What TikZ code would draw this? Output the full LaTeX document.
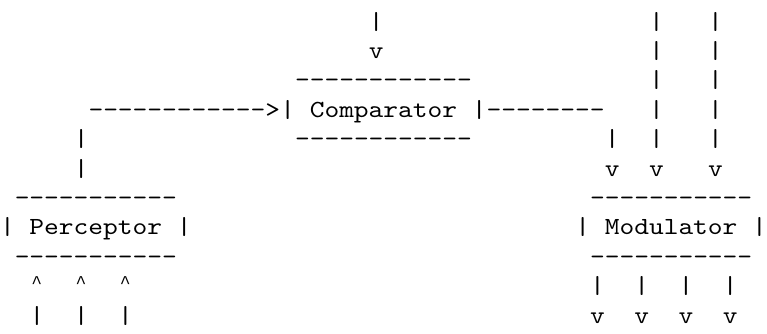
\documentclass[tikz,border=0pt]{standalone}
\usepackage{fontspec}
\newfontfamily\ascfont{lmmono10-regular.otf}[FakeStretch=1.1429]
\newfontfamily\caretfont{Liberation Mono}
\tikzset{
  asc/.style={font=\ascfont\fontsize{24.58pt}{29.4pt}\selectfont, anchor=base west, inner sep=0pt, outer sep=0pt, text=black},
  caret/.style={asc, font=\caretfont\fontsize{18pt}{29.4pt}\selectfont, anchor=base, xshift=7.375pt, yshift=5pt}
}
\newcommand{\cx}[1]{#1*14.75}
\newcommand{\ry}[1]{333-29-29.4*#1}
\begin{document}
\begin{tikzpicture}[x=1pt,y=1pt]
\useasboundingbox (0,0) rectangle (767,333);
% row 0
\node[asc] (r0a) at ({\cx{25}},{\ry{0}}) {|};
\node[asc] (r0b) at ({\cx{44}},{\ry{0}}) {|};
\node[asc] (r0c) at ({\cx{48}},{\ry{0}}) {|};
% row 1
\node[asc] (r1a) at ({\cx{25}},{\ry{1}}) {v};
\node[asc] (r1b) at ({\cx{44}},{\ry{1}}) {|};
\node[asc] (r1c) at ({\cx{48}},{\ry{1}}) {|};
% row 2
\node[asc] (comptop) at ({\cx{20}},{\ry{2}}) {------------};
\node[asc] (r2b) at ({\cx{44}},{\ry{2}}) {|};
\node[asc] (r2c) at ({\cx{48}},{\ry{2}}) {|};
% row 3
\node[asc] (arrowin) at ({\cx{6}},{\ry{3}}) {------------>};
\node[asc] (comparator) at ({\cx{19}},{\ry{3}}) {| Comparator |--------};
\node[asc] (r3b) at ({\cx{44}},{\ry{3}}) {|};
\node[asc] (r3c) at ({\cx{48}},{\ry{3}}) {|};
% row 4
\node[asc] (r4l) at ({\cx{5}},{\ry{4}}) {|};
\node[asc] (compbot) at ({\cx{20}},{\ry{4}}) {------------};
\node[asc] (r4a) at ({\cx{41}},{\ry{4}}) {|};
\node[asc] (r4b) at ({\cx{44}},{\ry{4}}) {|};
\node[asc] (r4c) at ({\cx{48}},{\ry{4}}) {|};
% row 5
\node[asc] (r5l) at ({\cx{5}},{\ry{5}}) {|};
\node[asc] (r5a) at ({\cx{41}},{\ry{5}}) {v};
\node[asc] (r5b) at ({\cx{44}},{\ry{5}}) {v};
\node[asc] (r5c) at ({\cx{48}},{\ry{5}}) {v};
% row 6
\node[asc] (perctop) at ({\cx{1}},{\ry{6}}) {-----------};
\node[asc] (modtop) at ({\cx{40}},{\ry{6}}) {-----------};
% row 7
\node[asc] (perceptor) at ({\cx{0}},{\ry{7}}) {| Perceptor |};
\node[asc] (modulator) at ({\cx{39}},{\ry{7}}) {| Modulator |};
% row 8
\node[asc] (percbot) at ({\cx{1}},{\ry{8}}) {-----------};
\node[asc] (modbot) at ({\cx{40}},{\ry{8}}) {-----------};
% row 9
\node[caret] (r9a) at ({\cx{2}},{\ry{9}}) {\textasciicircum};
\node[caret] (r9b) at ({\cx{5}},{\ry{9}}) {\textasciicircum};
\node[caret] (r9c) at ({\cx{8}},{\ry{9}}) {\textasciicircum};
\node[asc] (r9d) at ({\cx{40}},{\ry{9}}) {|};
\node[asc] (r9e) at ({\cx{43}},{\ry{9}}) {|};
\node[asc] (r9f) at ({\cx{46}},{\ry{9}}) {|};
\node[asc] (r9g) at ({\cx{49}},{\ry{9}}) {|};
% row 10
\node[asc] (r10a) at ({\cx{2}},{\ry{10}}) {|};
\node[asc] (r10b) at ({\cx{5}},{\ry{10}}) {|};
\node[asc] (r10c) at ({\cx{8}},{\ry{10}}) {|};
\node[asc] (r10d) at ({\cx{40}},{\ry{10}}) {v};
\node[asc] (r10e) at ({\cx{43}},{\ry{10}}) {v};
\node[asc] (r10f) at ({\cx{46}},{\ry{10}}) {v};
\node[asc] (r10g) at ({\cx{49}},{\ry{10}}) {v};
\end{tikzpicture}
\end{document}
